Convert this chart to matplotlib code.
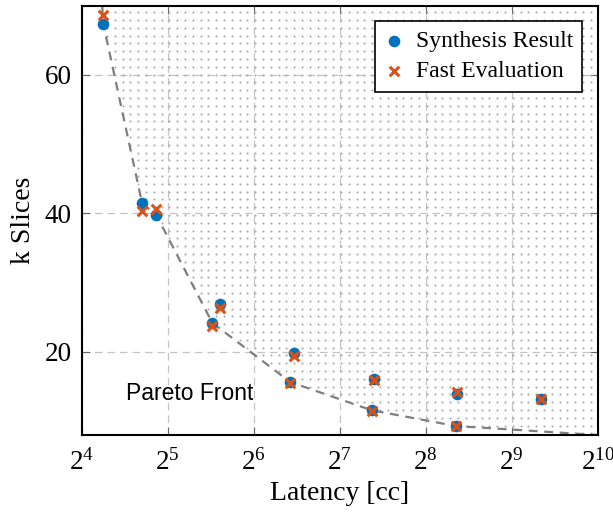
import numpy as np
import matplotlib
matplotlib.use("Agg")
import matplotlib.pyplot as plt
from matplotlib.ticker import FixedLocator, FuncFormatter, NullLocator

plt.rcParams['font.family'] = ['Liberation Serif', 'DejaVu Serif']
plt.rcParams['mathtext.fontset'] = 'custom'
plt.rcParams['mathtext.rm'] = 'Liberation Serif'
plt.rcParams['mathtext.it'] = 'Liberation Serif:italic'

# data
latency = [19.06, 26.07, 29.2, 48.9, 45.9, 88.8, 85.9, 169.4, 165.9, 328.5, 326.7, 647]
slices_synth = [67.4, 41.46, 39.8, 26.9, 24.2, 19.86, 15.66, 16.05, 11.57, 13.9, 9.3, 13.27]
slices_fast = [68.67, 40.35, 40.6, 26.4, 23.7, 19.4, 15.5, 15.9, 11.4, 14.2, 9.25, 13.2]

front_lat = [18.9, 19.06, 26.07, 29.2, 45.9, 85.9, 165.9, 326.7, 1024]
front_slices = [70, 67.4, 41.46, 39.8, 24.2, 15.66, 11.57, 9.3, 8.0]

x_ticks = [16, 32, 64, 128, 256, 512, 1024]
y_ticks = [20, 40, 60]

blue = '#0072BD'
orange = '#D95319'

fig = plt.figure(figsize=(6.13, 5.13), dpi=100)
ax = fig.add_axes([0.133, 0.152, 0.842, 0.837])
ax.set_xscale('log', base=2)
ax.set_xlim(16, 1024)
ax.set_ylim(8, 70)

# dominated region: dotted texture clipped to the area above the front
region = ax.fill_between(front_lat, front_slices, 70, facecolor='none',
                         edgecolor='none', zorder=1)
gx = np.arange(0.004, 1.0, 7.8 / 516)
gy = np.arange(0.004, 1.0, 7.8 / 429.5)
GX, GY = np.meshgrid(gx, gy)
dots = ax.scatter(GX.ravel(), GY.ravel(), s=2.4, color='#adadad', linewidths=0,
                  transform=ax.transAxes, zorder=1)
dots.set_clip_path(region.get_paths()[0], ax.transData)

ax.plot(front_lat, front_slices, color='#7f7f7f', lw=1.6, ls=(0, (4, 3)), zorder=2)

ax.scatter(latency, slices_synth, s=70, color=blue, linewidths=0, zorder=3,
           label='Synthesis Result')
ax.scatter(latency, slices_fast, s=48, marker='x', color=orange, linewidths=2.2,
           zorder=4, label='Fast Evaluation')

ax.text(38.3, 14.0, 'Pareto Front', family='Liberation Sans', fontsize=16.5,
        ha='center', va='center', zorder=5)

ax.xaxis.set_major_locator(FixedLocator(x_ticks))
ax.xaxis.set_minor_locator(NullLocator())
ax.xaxis.set_major_formatter(FuncFormatter(lambda v, p: r'$2^{%d}$' % round(np.log2(v))))
ax.yaxis.set_major_locator(FixedLocator(y_ticks))

ax.grid(True, color='#c4c4c4', lw=0.9, ls=(0, (6, 4)), zorder=0)
ax.set_axisbelow(True)
ax.tick_params(direction='in', length=6, width=0.8, color='#666666',
               top=True, right=True, labelsize=19.5, pad=7)
ax.tick_params(axis='x', pad=10)
for s in ax.spines.values():
    s.set_linewidth(1.5)

ax.set_xlabel('Latency [cc]', fontsize=20, labelpad=4)
ax.set_ylabel('k Slices', fontsize=20, labelpad=6)

leg = ax.legend(loc='upper right', fontsize=17, frameon=True, fancybox=False,
                framealpha=1, edgecolor='black', borderaxespad=0.65,
                handlelength=0.8, handletextpad=0.5, labelspacing=0.38,
                borderpad=0.4, scatterpoints=1)
leg.get_frame().set_linewidth(1.2)
leg.set_zorder(6)

fig.savefig('out.png', dpi=100)
